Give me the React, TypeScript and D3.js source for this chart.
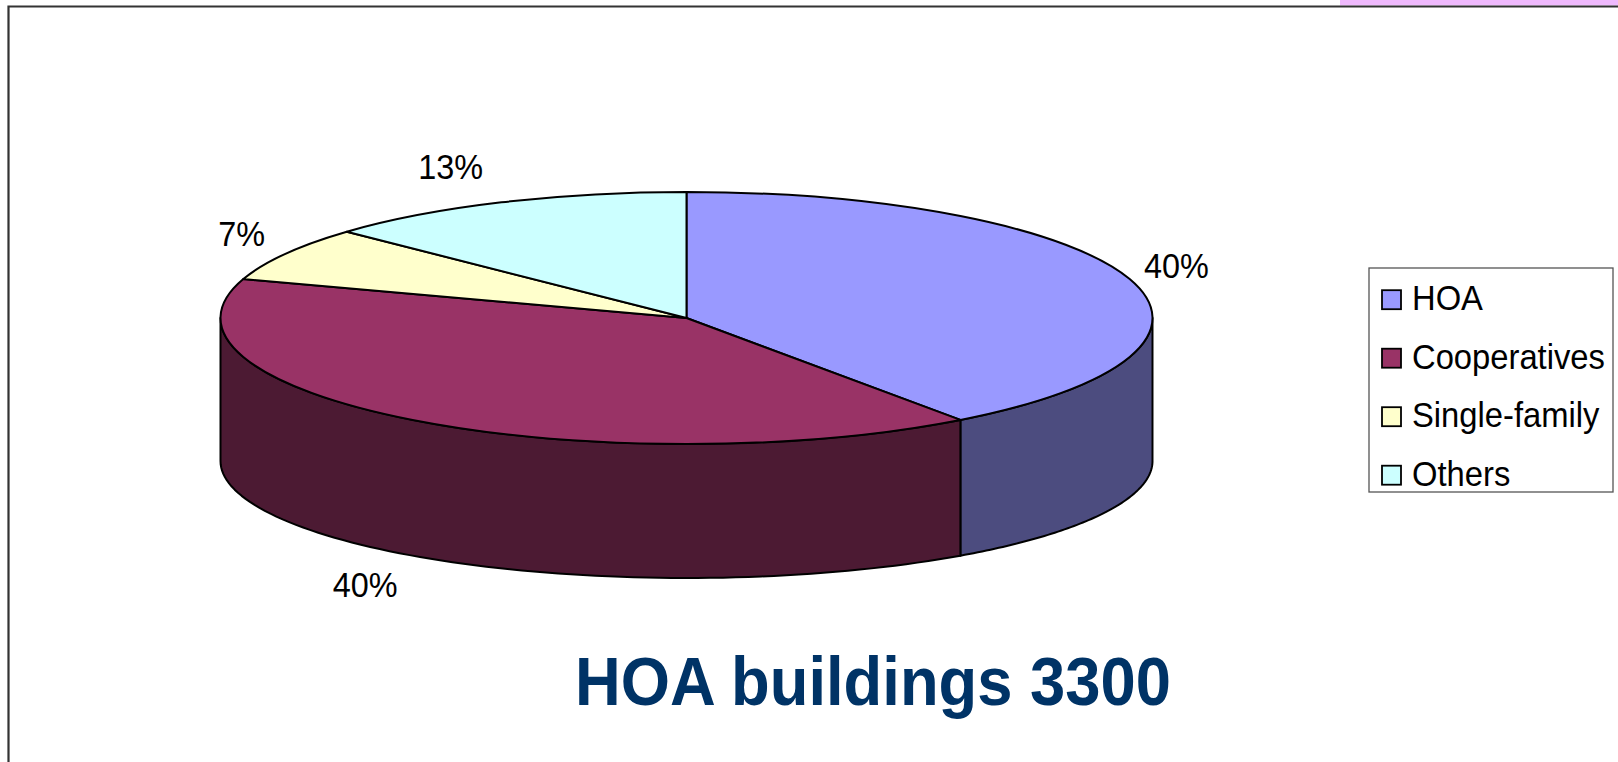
import React from "react";
import * as d3 from "d3";

// ---- data ----
const categories: string[] = ["HOA", "Cooperatives", "Single-family", "Others"];
const shares: number[] = [40, 40, 7, 13];
const labelTexts: string[] = ["40%", "40%", "7%", "13%"];
const chartTitle = "HOA buildings 3300";

// ---- style ----
const topColors = ["#9999FF", "#993366", "#FFFFCC", "#CCFFFF"];
const sideColors = ["#4C4C7F", "#4C1A33", "#7F7F66", "#667F7F"];
const W = 1618;
const H = 762;
const CX = 686.5;
const TOP_CY = 318;
const TOP_RY = 126;
const BOT_CY = 461;
const BOT_RY = 117;
const RX = 466;
const LABEL_PAD = 45;
const labelNudge: [number, number][] = [[4, 0], [-21, -8], [-5, 2], [-33, 5]];

const topPt = (a: number): [number, number] => [CX + RX * Math.sin(a), TOP_CY - TOP_RY * Math.cos(a)];
const botPt = (a: number): [number, number] => [CX + RX * Math.sin(a), BOT_CY - BOT_RY * Math.cos(a)];

function topSlicePath(s: number, e: number): string {
  const [x0, y0] = topPt(s);
  const [x1, y1] = topPt(e);
  const large = e - s > Math.PI ? 1 : 0;
  return `M${CX},${TOP_CY}L${x0},${y0}A${RX},${TOP_RY} 0 ${large} 1 ${x1},${y1}Z`;
}

function wallPath(s: number, e: number): string | null {
  const a0 = Math.max(s, Math.PI / 2);
  const a1 = Math.min(e, (3 * Math.PI) / 2);
  if (a1 <= a0) return null;
  const n = 80;
  const pts: [number, number][] = [];
  for (let i = 0; i <= n; i++) pts.push(topPt(a0 + ((a1 - a0) * i) / n));
  for (let i = n; i >= 0; i--) pts.push(botPt(a0 + ((a1 - a0) * i) / n));
  return "M" + pts.map((p) => `${p[0].toFixed(2)},${p[1].toFixed(2)}`).join("L") + "Z";
}

export default function App() {
  const pie = d3.pie<number>().sort(null).value((d) => d).startAngle(0).endAngle(2 * Math.PI);
  const arcs = pie(shares);

  const legendX = 1369;
  const legendY = 268;
  const legendW = 244;
  const legendH = 224;
  const rowStep = 58.5;
  const firstRow = 299.7;

  return (
    <svg
      width={W}
      height={H}
      style={{ position: "absolute", left: 0, top: 0, display: "block" }}
      fontFamily="'Liberation Sans', Arial, sans-serif"
    >
      <rect x={0} y={0} width={W} height={H} fill="#ffffff" />
      <rect x={1340} y={0} width={W - 1340} height={5.5} fill="#EFB9FD" />
      <path d={`M8.5,${H}L8.5,6.5L${W},6.5`} fill="none" stroke="#333333" strokeWidth={2.2} />

      {/* walls */}
      {arcs.map((a, i) => {
        const d = wallPath(a.startAngle, a.endAngle);
        return d ? (
          <path key={"w" + i} d={d} fill={sideColors[i]} stroke="#000" strokeWidth={2} strokeLinejoin="round" />
        ) : null;
      })}

      {/* top */}
      {arcs.map((a, i) => (
        <path
          key={"t" + i}
          d={topSlicePath(a.startAngle, a.endAngle)}
          fill={topColors[i]}
          stroke="#000"
          strokeWidth={2}
          strokeLinejoin="round"
        />
      ))}

      {/* labels */}
      {arcs.map((a, i) => {
        const m = (a.startAngle + a.endAngle) / 2;
        const lower = Math.cos(m) < 0;
        const x = CX + (RX + LABEL_PAD) * Math.sin(m) + labelNudge[i][0];
        const y = lower
          ? BOT_CY - (BOT_RY + LABEL_PAD) * Math.cos(m) + labelNudge[i][1]
          : TOP_CY - (TOP_RY + LABEL_PAD) * Math.cos(m) + labelNudge[i][1];
        return (
          <text
            key={"l" + i}
            transform={`translate(${x},${y + 13}) scale(0.9,1)`}
            textAnchor="middle"
            fontSize={36}
            fill="#000"
          >
            {labelTexts[i]}
          </text>
        );
      })}

      {/* legend */}
      <rect x={legendX} y={legendY} width={legendW} height={legendH} fill="#fff" stroke="#555" strokeWidth={1.3} />
      {categories.map((c, i) => {
        const cy = firstRow + i * rowStep;
        return (
          <g key={"g" + i}>
            <rect x={1382} y={cy - 9.5} width={19} height={19} fill={topColors[i]} stroke="#000" strokeWidth={1.8} />
            <text transform={`translate(1412,${cy + 10.5}) scale(0.91,1)`} fontSize={36} fill="#000">
              {c}
            </text>
          </g>
        );
      })}

      {/* title */}
      <text
        transform={`translate(873,705) scale(0.99,1.06)`}
        textAnchor="middle"
        fontSize={64}
        fontWeight="bold"
        fill="#003366"
      >
        {chartTitle}
      </text>
    </svg>
  );
}
